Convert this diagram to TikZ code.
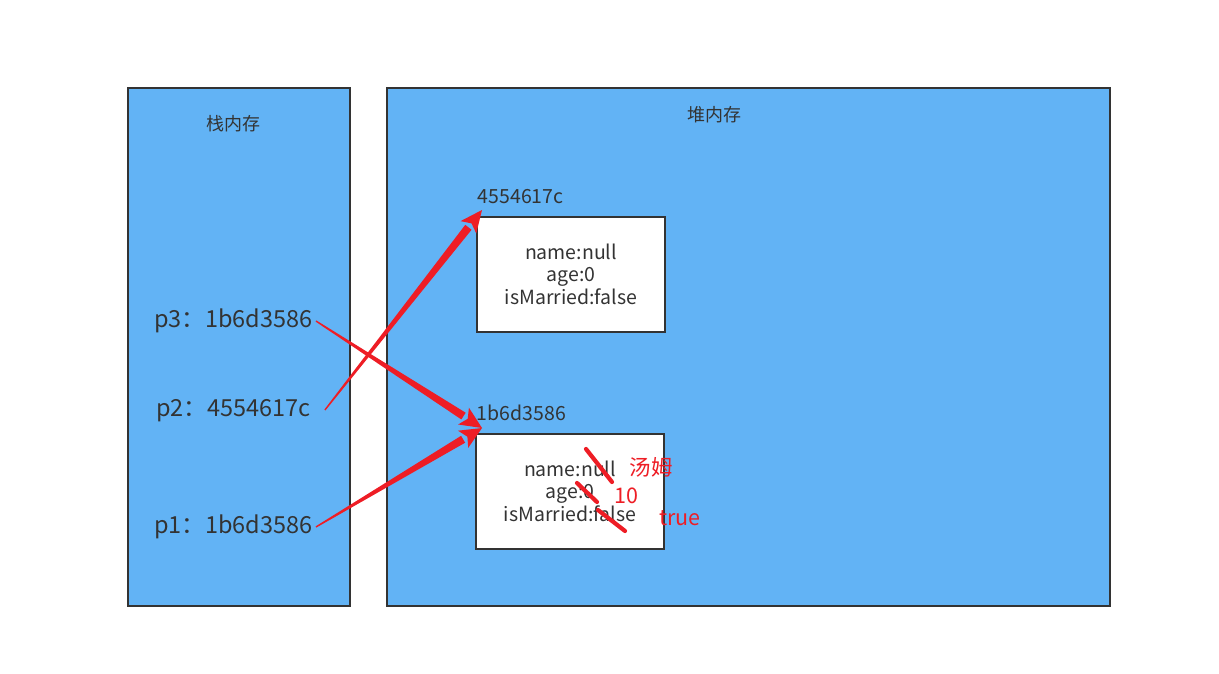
\documentclass[tikz,border=0pt]{standalone}
\usepackage{fontspec}
\setmainfont{Noto Sans CJK SC}
\usetikzlibrary{calc,positioning}
\definecolor{memblue}{HTML}{62B3F5}
\definecolor{boxedge}{HTML}{333333}
\definecolor{ink}{HTML}{333333}
\definecolor{redink}{HTML}{EE1D25}
\newcommand{\px}[1]{\fontsize{#1}{#1}\selectfont}
% tapered red arrow: thin at the start, wide near the head
\newcommand{\taper}[2]{%
  \coordinate (tp) at ($(#2)!22pt!(#1)$);
  \fill[redink] ($(#1)!0.7pt!90:(tp)$) -- ($(tp)!4pt!-90:(#1)$)
    -- ($(tp)!4pt!90:(#1)$) -- ($(#1)!0.7pt!-90:(tp)$) -- cycle;
  \fill[redink] (#2) -- ($(tp)!10pt!90:(#2)$) -- ($(tp)!5pt!(#2)$)
    -- ($(tp)!10pt!-90:(#2)$) -- cycle;}

\begin{document}
\begin{tikzpicture}[x=1pt,y=-1pt,
  mem/.style={draw=boxedge,line width=2.8pt,fill=memblue,inner sep=0pt},
  obj/.style={draw=boxedge,line width=2.8pt,fill=white,minimum width=188pt,
    minimum height=115pt,align=center,text=ink,font=\px{19.5},inner sep=0pt},
  ttl/.style={text=ink,font=\px{18}},
  ref/.style={text=ink,font=\px{23.5},inner sep=3pt},
  addr/.style={text=ink,font=\px{19.5},inner sep=2pt},
  note/.style={text=redink,font=\px{21.5},inner sep=0pt},
  strike/.style={draw=redink,line width=4.2pt,line cap=round}]
\useasboundingbox (0,0) rectangle (1219,674);
\node[mem,minimum width=222pt,minimum height=518pt] (stack) at (239,347) {};
\node[mem,minimum width=723pt,minimum height=518pt] (heap) at (748.5,347) {};
\node[ttl] (st) at (233,124) {栈内存};
\node[ttl] (ht) at (714,115) {堆内存};

\node[obj] (o1) at (571,274.5) {name:null\\[2pt]age:0\\[2pt]isMarried:false};
\node[obj] (o2) at (570,491.5) {name:null\\[2pt]age:0\\[2pt]isMarried:false};
\node[addr,above=10pt of o1.north west,anchor=south west] (a1) {4554617c};
\node[addr,above=10pt of o2.north west,anchor=south west] (a2) {1b6d3586};

\node[ref] (p3) at (233.5,321) {p3：1b6d3586};
\node[ref] (p2) at (233.5,411) {p2：4554617c};
\node[ref] (p1) at (233.5,527) {p1：1b6d3586};

\coordinate (t1) at (482,210);
\coordinate (t2) at (482,428);
\taper{p3.east}{t2}
\taper{[xshift=11pt,yshift=1pt]p2.east}{t1}
\taper{p1.east}{t2}

% crossed-out values
\draw[strike] (586,449) -- (612,482);
\draw[strike] (577,483) -- (597,502);
\draw[strike] (598,510) -- (625,531);
\node[note] (n1) at (651,467) {汤姆};
\node[note] (n2) at (626,496) {10};
\node[note] (n3) at (680,518) {true};
\end{tikzpicture}
\end{document}
